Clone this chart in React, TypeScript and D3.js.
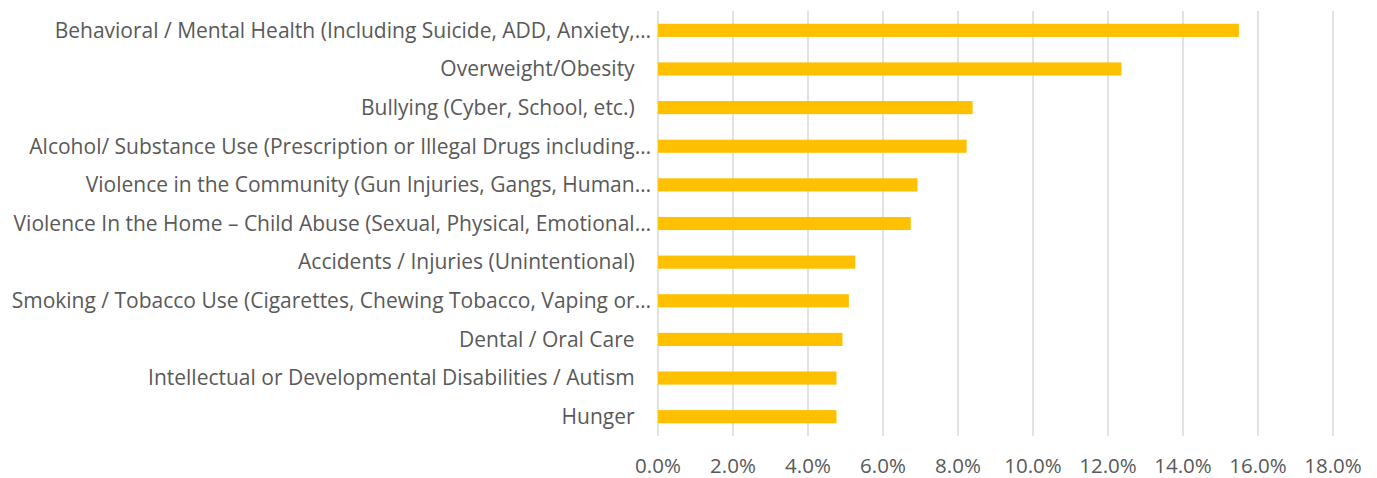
import React, { useEffect } from "react";
import * as d3 from "d3";

const categories: string[] = [
  "Behavioral / Mental Health (Including Suicide, ADD, Anxiety,…",
  "Overweight/Obesity   ",
  "Bullying (Cyber, School, etc.)   ",
  "Alcohol/ Substance Use (Prescription or Illegal Drugs including…",
  "Violence in the Community (Gun Injuries, Gangs, Human…",
  "Violence In the Home – Child Abuse (Sexual, Physical, Emotional…",
  "Accidents / Injuries (Unintentional)   ",
  "Smoking / Tobacco Use (Cigarettes, Chewing Tobacco, Vaping or…",
  "Dental / Oral Care   ",
  "Intellectual or Developmental Disabilities / Autism   ",
  "Hunger   ",
];

const values: number[] = [
  0.1549, 0.1236, 0.0839, 0.0823, 0.0692, 0.0674, 0.0526, 0.0509, 0.0492, 0.0476, 0.0476,
];

const ticks: number[] = [0, 0.02, 0.04, 0.06, 0.08, 0.1, 0.12, 0.14, 0.16, 0.18];

const W = 1377;
const H = 478;
const FONT = "'Open Sans', sans-serif";
const TEXT = "#595959";

export default function App() {
  useEffect(() => {
    document.body.style.margin = "0";
  }, []);

  const x = d3.scaleLinear().domain([0, 0.18]).range([658, 1333]);
  const y = d3
    .scaleBand<string>()
    .domain(categories)
    .range([11, 436])
    .paddingInner(0.66)
    .paddingOuter(0.33);
  const fmt = d3.format(".1%");

  return (
    <svg width={W} height={H} style={{ display: "block" }}>
      <rect width={W} height={H} fill="#fff" />
      {ticks.map((t) => (
        <line
          key={"g" + t}
          x1={x(t)}
          x2={x(t)}
          y1={11}
          y2={436}
          stroke="#D9D9D9"
          strokeWidth={1.5}
        />
      ))}
      {categories.map((c, i) => (
        <rect
          key={"b" + i}
          x={x(0)}
          y={y(c)}
          width={x(values[i]) - x(0)}
          height={y.bandwidth()}
          fill="#FFC000"
        />
      ))}
      {categories.map((c, i) => (
        <text
          key={"l" + i}
          x={651}
          y={(y(c) as number) + y.bandwidth() / 2}
          dy="0.35em"
          textAnchor="end"
          fontFamily={FONT}
          fontSize={21}
          fill={TEXT}
          style={{ whiteSpace: "pre" }}
        >
          {c}
        </text>
      ))}
      {ticks.map((t) => (
        <text
          key={"t" + t}
          x={x(t)}
          y={466}
          dy="0.35em"
          textAnchor="middle"
          fontFamily={FONT}
          fontSize={20.5}
          fill={TEXT}
        >
          {fmt(t)}
        </text>
      ))}
    </svg>
  );
}
